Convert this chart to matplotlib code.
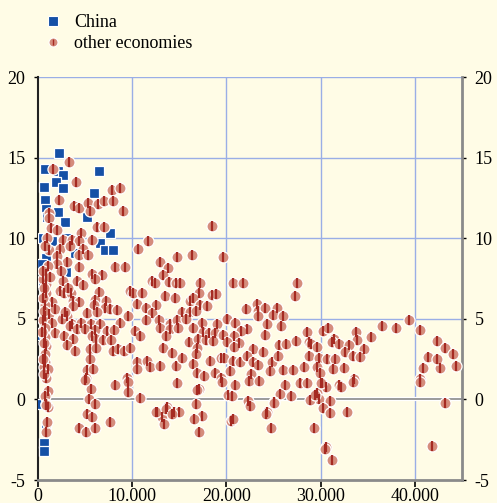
import matplotlib
matplotlib.use('Agg')
import matplotlib.pyplot as plt
from matplotlib.lines import Line2D
from matplotlib.ticker import FuncFormatter

# GDP per capita (thousands) vs growth (%)
china_x = [2.2, 0.7, 2.1, 2.6, 6.5, 1.9, 2.6, 0.6, 0.7, 5.9, 0.8, 2.1, 5.2, 2.9, 1.0,
           7.6, 6.6, 7.1, 8.0, 3.0, 0.5, 0.8, 0.4, 3.0, 0.5, 0.5, 3.9, 0.9, 0.6, 0.6,
           0.2, 1.5, 0.3]
china_y = [15.3, 14.3, 14.2, 13.9, 14.2, 13.5, 13.1, 13.2, 12.4, 12.8, 11.8, 11.6, 11.3, 11.0, 11.3,
           10.35, 9.7, 9.25, 9.25, 10.0, 10.0, 8.8, 8.4, 7.9, 7.3, 4.1, 9.1, -1.5, -2.7, -3.2,
           -0.3, 9.8, 4.0]

other_x = [3.3, 1.6, 4.0, 7.8, 8.7, 2.2, 3.8, 4.3, 5.3, 6.4, 7.0, 8.0, 5.5, 9.0, 1.2,
           1.2, 18.5, 1.4, 2.0, 6.3, 7.0, 4.6, 1.0, 2.7, 3.6, 4.4, 5.7, 11.7, 10.6, 1.2,
           2.3, 3.4, 4.8, 2.0, 4.4, 5.3, 3.1, 2.0, 1.1, 4.4, 8.2, 9.2, 14.8, 16.3, 19.6,
           12.9, 13.8, 0.9, 5.7, 6.8, 13.3, 0.8, 2.6, 4.1, 4.8, 6.1, 12.1, 12.4, 13.9, 14.6,
           15.1, 17.2, 0.8, 2.3, 2.8, 3.5, 6.5, 9.8, 10.1, 11.0, 13.5, 14.5, 17.1, 18.5, 18.9,
           1.5, 3.7, 4.4, 6.1, 7.2, 16.1, 16.5, 0.7, 3.7, 5.9, 7.1, 10.5, 12.5, 17.2, 17.9,
           0.7, 1.2, 3.1, 5.2, 6.3, 7.6, 8.4, 11.5, 12.1, 15.3, 16.1, 16.8, 0.5, 1.5, 2.5,
           3.6, 4.6, 5.6, 6.6, 8.7, 9.6, 11.5, 12.8, 14.0, 14.7, 15.7, 17.4, 19.0, 20.1, 0.7,
           1.8, 3.4, 4.1, 5.0, 6.0, 7.3, 8.1, 13.0, 14.0, 14.9, 16.5, 17.5, 18.1, 18.8, 19.6,
           0.7, 2.8, 3.7, 5.7, 6.2, 6.9, 7.7, 10.3, 10.8, 13.6, 16.0, 17.0, 17.8, 18.6, 0.8,
           3.1, 3.9, 5.5, 6.2, 8.0, 8.5, 9.1, 9.8, 13.3, 14.2, 16.9, 16.8, 0.7, 5.5, 10.5,
           11.6, 11.9, 13.0, 14.6, 15.3, 16.5, 18.3, 19.4, 10.5, 0.7, 0.6, 1.1, 5.2, 5.8, 0.9,
           5.1, 9.4, 16.9, 17.6, 18.8, 19.4, 8.2, 9.5, 14.8, 5.6, 9.6, 1.1, 0.7, 17.1, 20.2,
           5.4, 6.0, 10.8, 0.9, 1.1, 5.2, 5.7, 12.6, 13.7, 13.2, 14.4, 15.0, 16.8, 17.4, 16.6,
           4.3, 5.1, 6.0, 7.6, 13.4, 17.1, 0.9, 1.0, 0.8, 5.0, 12.5, 13.6, 14.2, 16.9, 20.5,
           0.5, 0.6, 0.5, 0.6, 0.4, 0.6, 0.5, 0.6, 0.7, 0.5, 1.3, 2.4, 3.2, 1.8, 2.9,
           20.7, 21.8, 27.5, 27.3, 23.2, 23.4, 22.1, 24.1, 25.4, 24.9, 26.0, 23.4, 20.1, 20.9, 24.3,
           25.8, 22.2, 21.5, 20.8, 24.1, 28.5, 30.3, 30.8, 31.4, 33.7, 33.9, 35.3, 36.5, 38.0, 39.4,
           40.5, 20.1, 21.3, 20.8, 22.8, 23.9, 25.6, 26.3, 27.4, 28.8, 29.0, 29.6, 31.2, 31.9, 33.0,
           32.6, 34.6, 19.7, 20.7, 21.4, 22.2, 22.8, 23.3, 24.8, 25.5, 28.8, 29.8, 30.7, 31.5, 33.4,
           34.2, 41.4, 42.4, 43.2, 44.0, 40.9, 42.7, 44.4, 42.3, 20.4, 22.6, 24.6, 26.0, 27.1, 28.2,
           29.6, 29.9, 31.3, 32.5, 19.5, 20.9, 22.4, 23.5, 26.2, 27.8, 28.5, 30.1, 30.6, 31.9, 33.5,
           40.5, 20.6, 25.7, 26.9, 29.6, 29.8, 25.1, 28.9, 31.0, 22.3, 22.5, 30.3, 31.0, 32.8, 24.3,
           43.2, 20.7, 24.7, 29.3, 30.6, 31.2, 41.8, 24.2, 25.0, 30.0, 32.2, 33.4, 40.5, 30.5, 29.4]
other_y = [14.75, 14.3, 13.5, 13.0, 13.1, 12.4, 12.0, 11.9, 12.2, 12.15, 12.3, 12.3, 11.7, 11.7, 11.55,
           11.25, 10.75, 10.65, 10.5, 10.7, 10.7, 10.35, 10.0, 9.9, 9.9, 9.8, 9.9, 9.8, 9.35, 9.3,
           9.35, 9.55, 9.35, 8.9, 8.95, 8.95, 8.5, 8.4, 8.3, 8.2, 8.2, 8.2, 8.85, 8.95, 8.85,
           8.5, 8.15, 7.8, 7.8, 7.75, 7.75, 7.15, 7.35, 7.35, 7.1, 7.5, 7.35, 7.2, 7.3, 7.25,
           7.2, 7.25, 6.6, 6.75, 6.6, 6.6, 6.65, 6.75, 6.6, 6.6, 6.4, 6.3, 6.6, 6.5, 6.55,
           6.05, 6.1, 6.05, 6.15, 6.1, 6.1, 6.3, 5.85, 5.8, 5.85, 5.7, 5.9, 5.85, 5.85, 5.8,
           5.2, 5.3, 5.2, 5.35, 5.45, 5.6, 5.55, 5.7, 5.35, 5.4, 5.45, 5.5, 4.9, 4.75, 5.0,
           4.65, 4.75, 4.65, 4.7, 4.75, 5.2, 4.95, 4.9, 4.7, 4.9, 5.0, 4.75, 4.65, 5.0, 4.45,
           4.1, 4.55, 4.35, 4.4, 4.3, 4.25, 4.3, 4.45, 4.4, 4.45, 4.45, 4.2, 4.15, 4.15, 4.0,
           3.85, 3.95, 3.75, 3.95, 3.75, 3.7, 3.7, 4.25, 3.95, 3.95, 3.55, 3.75, 3.7, 3.65, 3.3,
           3.35, 3.0, 3.1, 3.2, 3.0, 3.1, 3.0, 3.2, 3.2, 2.9, 3.2, 2.8, 2.8, 2.5, 2.3,
           2.4, 2.0, 2.1, 2.1, 2.6, 2.2, 2.4, 2.6, 1.9, 2.3, 2.0, 1.9, 1.8, 1.9, 1.3,
           1.3, 1.35, 1.65, 1.45, 1.65, 1.3, 0.9, 1.1, 1.0, 0.65, 0.45, 0.5, 0.2, 0.65, 0.3,
           0.0, -0.3, 0.1, -0.3, -0.5, -0.9, -1.1, -0.75, -0.5, -1.1, -0.8, -0.75, -0.3, -1.0, -1.2,
           -1.75, -2.05, -1.75, -1.4, -1.5, -2.05, -2.05, -1.4, -0.35, 1.2, -0.8, -0.6, -0.9, 0.6, -1.35,
           7.5, 6.9, 6.3, 5.5, 4.2, 3.5, 2.5, 1.6, 9.5, 8.0, 7.6, 8.0, 6.9, 5.6, 5.4,
           7.2, 7.2, 7.25, 6.4, 5.95, 5.5, 5.6, 5.65, 5.7, 5.25, 5.15, 5.15, 5.0, 4.75, 4.65,
           4.55, 4.35, 4.25, 3.95, 4.0, 4.2, 4.25, 4.45, 3.75, 4.2, 3.7, 3.9, 4.55, 4.45, 4.95,
           4.3, 3.55, 3.5, 3.25, 3.15, 2.95, 3.35, 3.45, 3.6, 3.55, 3.45, 3.25, 3.55, 3.45, 3.4,
           2.95, 3.15, 2.6, 2.4, 2.3, 2.7, 2.35, 2.15, 2.3, 2.7, 2.7, 2.6, 2.5, 2.5, 2.7,
           2.65, 2.65, 3.6, 3.2, 2.8, 1.95, 1.95, 2.05, 2.5, 1.75, 1.6, 1.75, 1.8, 1.85, 2.0,
           2.0, 1.65, 1.9, 1.95, 1.1, 0.9, 1.15, 1.15, 0.9, 1.05, 1.05, 1.05, 0.8, 0.9, 1.25,
           1.25, 0.2, 0.35, 0.2, 0.4, 0.05, -0.15, -0.05, -0.1, -0.1, -0.4, -0.55, -0.85, -0.8, -0.8,
           -0.2, -1.2, -1.8, -1.8, -2.95, -3.75, -2.9, -0.9, -0.2, 1.05, 0.8, 1.1, 1.1, -3.1, 0.3]

xticks = [0, 10, 20, 30, 40]
yticks = [-5, 0, 5, 10, 15, 20]

bg = '#fffce6'
blue = '#1550a6'
salmon = '#d58c7c'
stripe = '#a52a22'

plt.rcParams['font.family'] = ['Liberation Serif', 'DejaVu Serif']
plt.rcParams['axes.unicode_minus'] = False

fig = plt.figure(figsize=(4.97, 5.03), dpi=100, facecolor=bg)
ax = fig.add_axes([0.0765, 0.0457, 0.853, 0.801], facecolor=bg)

# grid
for v in xticks[1:]:
    ax.axvline(v, color='#9aaee6', lw=1, zorder=1)
for v in yticks[2:]:
    ax.axhline(v, color='#9aaee6', lw=1, zorder=1)
ax.axhline(0, color='white', lw=3, zorder=1)
ax.axhline(0, color='#8a8a8a', lw=1.2, zorder=1)

ch, = ax.plot(china_x, china_y, 's', ms=7.5, color=blue, mec='white', mew=0.9,
              ls='none', zorder=3)
oc, = ax.plot(other_x, other_y, 'o', ms=8, color=salmon, mec='white', mew=0.9,
              ls='none', zorder=4)
os_, = ax.plot(other_x, other_y, '|', ms=7, color=stripe, mew=1.6, ls='none', zorder=5)

ax.set_xlim(0, 45)
ax.set_ylim(-5, 20)
ax.set_xticks(xticks)
ax.set_yticks(yticks)
ax.xaxis.set_major_formatter(FuncFormatter(lambda v, p: '0' if v == 0 else '%d.000' % v))
ax.tick_params(axis='x', length=5, width=1.2, color='black', labelsize=13, pad=0.5)
ax.tick_params(axis='y', length=3, width=1, color='black', labelsize=13,
               left=True, right=True, labelleft=True, labelright=True, pad=6)

ax.spines['top'].set_visible(False)
ax.spines['left'].set_color('#222222')
ax.spines['left'].set_linewidth(1.5)
ax.spines['right'].set_color('#8a8a8a')
ax.spines['right'].set_linewidth(2)
ax.spines['bottom'].set_color('#8a8a8a')
ax.spines['bottom'].set_linewidth(2)

h_china = Line2D([], [], marker='s', ms=6.5, color=blue, mec='white', mew=0.8, ls='none')
h_oc = Line2D([], [], marker='o', ms=6.5, color=salmon, mec='white', mew=0.8, ls='none')
h_os = Line2D([], [], marker='|', ms=5, color=stripe, mew=1.0, ls='none')
fig.legend([h_china, (h_oc, h_os)], ['China', 'other economies'],
           loc='upper left', bbox_to_anchor=(0.055, 1.0), frameon=False,
           fontsize=13, handlelength=1.2, handletextpad=0.6, labelspacing=0.2,
           borderaxespad=0.4)

fig.savefig('out.png', dpi=100, facecolor=bg)
